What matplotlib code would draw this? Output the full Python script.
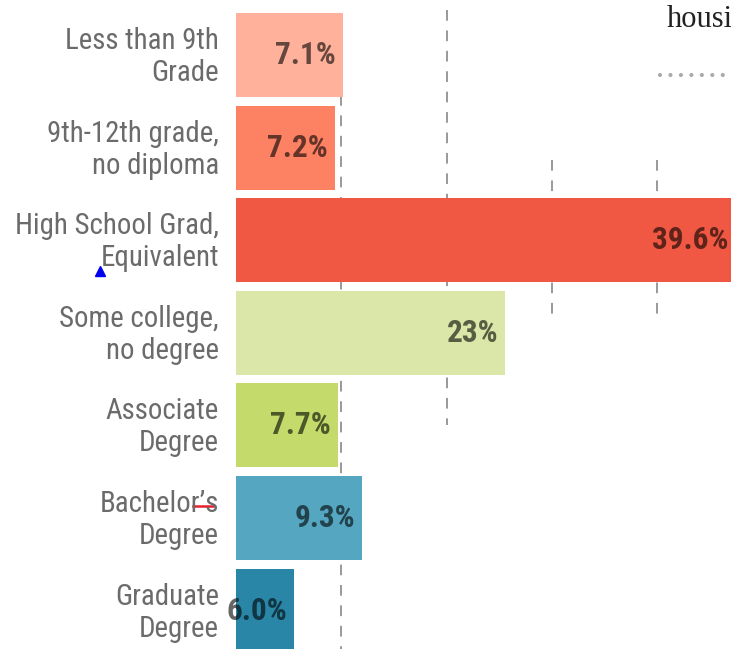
import matplotlib.pyplot as plt
from matplotlib import font_manager

# data
categories = ['Less than 9th\nGrade', '9th-12th grade,\nno diploma', 'High School Grad,\nEquivalent',
              'Some college,\nno degree', 'Associate\nDegree', "Bachelor\u2019s\nDegree", 'Graduate\nDegree']
labels = ['7.1%', '7.2%', '39.6%', '23%', '7.7%', '9.3%', '6.0%']
# bar lengths as drawn in the picture (not proportional to the labels)
bar_lengths = [9.15, 8.45, 42.65, 23.0, 8.7, 10.75, 4.95]
colors = ['#ffb19b', '#fd8264', '#f05843', '#dbe7a9', '#c4da6b', '#55a6c1', '#2a86a7']
grid_x = [9, 18, 27, 36]

names = {f.name for f in font_manager.fontManager.ttflist}
cond = [n for n in ['Roboto Condensed', 'Liberation Sans Narrow', 'DejaVu Sans'] if n in names]

W, H = 731, 649
fig = plt.figure(figsize=(W / 100, H / 100), dpi=100)
ax = fig.add_axes([236 / W, 0, 1 - 236 / W, 1])
px = 11.7  # pixels per percent
ax.set_xlim(0, (W - 236) / px)
ax.set_ylim((H - 55) / 92.6, -55 / 92.6)
ax.axis('off')

ys = range(len(categories))

# dashed guide lines behind the bars
spans = [(95, 649), (10, 425), (160, 322), (160, 322)]
for gx, (y0, y1) in zip(grid_x, spans):
    ax.plot([gx, gx], [(y0 - 55) / 92.6, (y1 - 55) / 92.6], color='#999999', lw=1.4,
            dashes=(5.5, 5), zorder=0)

ax.barh(list(ys), bar_lengths, height=0.905, color=colors, zorder=2)

for y, v, lab in zip(ys, bar_lengths, labels):
    ax.annotate(lab, (v, y), xytext=(-5, 0), textcoords='offset points', ha='right', va='center',
                fontsize=22.5, fontweight='bold', family=cond, color='black', alpha=0.6, zorder=3,
                annotation_clip=False)

for y, c in zip(ys, categories):
    fig.text(219 / W, 1 - (57 + 92.6 * y) / H, c, ha='right', va='center', fontsize=20.8,
             family=cond, color='#6b6b6b', linespacing=1.18)

# stray bits from the page
fig.text(667 / W, 1 - 27 / H, 'housi', fontsize=22, family='Liberation Serif', color='#222222',
         ha='left', va='baseline')
fig.add_artist(plt.Line2D([660 / W, 731 / W], [1 - 75 / H] * 2, color='#aaaaaa', lw=3,
                          linestyle=(0, (0.01, 2.5)), dash_capstyle='round', solid_capstyle='round'))
fig.add_artist(plt.Line2D([100 / W], [1 - 271 / H], marker='^', color='#0000ee', markersize=7, lw=0))
fig.add_artist(plt.Line2D([193 / W, 213 / W], [1 - 506 / H] * 2, color='#e8202a', lw=1.8))

fig.savefig('out.png', dpi=100)
